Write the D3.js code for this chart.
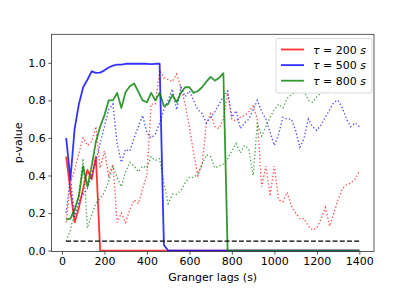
<!DOCTYPE html>
<html><head><meta charset="utf-8">
<script src="https://cdn.jsdelivr.net/npm/d3@7"></script>
<style>html,body{margin:0;padding:0;background:#fff;}svg{display:block;font-family:"DejaVu Sans",sans-serif;}</style>
</head><body><div id="chart"></div>
<script>
const lags = d3.range(20, 1401, 20);
const tauLabels = ["200", "500", "800"];
const colors = ["#ff0000", "#0000ff", "#008000"];
const xTicks = [0, 200, 400, 600, 800, 1000, 1200, 1400];
const yTicks = [0.0, 0.2, 0.4, 0.6, 0.8, 1.0];
const threshold = 0.05;

const red200 = [0.50,0.32,0.15,0.23,0.33,0.43,0.38,0.50,0,0,0,0,0,0,0,0,0,0,0,0,0,0,0,0,0,0,0,0,0,0,0,0,0,0,0,0,0,0,0,0,0,0,0,0,0,0,0,0,0,0,0,0,0,0,0,0,0,0,0,0,0,0,0,0,0,0,0,0,0,0];
const red200Dot = [0.15,0.36,0.43,0.52,0.60,0.56,0.58,0.66,0.44,0.53,0.40,0.46,0.15,0.20,0.15,0.22,0.27,0.25,0.33,0.40,0.78,0.78,0.96,0.92,0.91,0.90,0.94,0.87,0.78,0.66,0.52,0.40,0.46,0.68,0.73,0.66,0.65,0.70,0.84,0.70,0.69,0.71,0.72,0.74,0.77,0.70,0.34,0.45,0.29,0.45,0.27,0.26,0.31,0.24,0.20,0.17,0.17,0.13,0.11,0.12,0.17,0.23,0.13,0.20,0.27,0.33,0.35,0.36,0.38,0.42];
const blue500 = [0.60,0.38,0.65,0.78,0.87,0.91,0.955,0.947,0.948,0.96,0.975,0.985,0.99,0.99,0.995,0.995,0.995,0.995,0.995,0.995,0.993,0.995,0.995,0.03,0,0,0,0,0,0,0,0,0,0,0,0,0,0,0,0,0,0,0,0,0,0,0,0,0,0,0,0,0,0,0,0,0,0,0,0,0,0,0,0,0,0,0,0,0,0];
const blue500Dot = [0.20,0.39,0.18,0.26,0.30,0.33,0.40,0.48,0.57,0.66,0.75,0.78,0.57,0.47,0.54,0.53,0.60,0.66,0.72,0.63,0.60,0.62,0.68,0.75,0.80,0.86,0.75,0.87,0.82,0.85,0.80,0.75,0.73,0.68,0.71,0.74,0.78,0.82,0.85,0.71,0.745,0.65,0.68,0.70,0.75,0.80,0.74,0.70,0.63,0.56,0.62,0.71,0.70,0.70,0.64,0.55,0.60,0.70,0.66,0.64,0.67,0.71,0.75,0.79,0.80,0.76,0.70,0.66,0.68,0.66];
const green800 = [0.165,0.17,0.22,0.29,0.45,0.34,0.45,0.58,0.66,0.72,0.80,0.80,0.84,0.76,0.845,0.875,0.89,0.845,0.80,0.79,0.84,0.80,0.84,0.77,0.78,0.83,0.79,0.84,0.87,0.87,0.84,0.85,0.87,0.90,0.925,0.905,0.92,0.945,0,0,0,0,0,0,0,0,0,0,0,0,0,0,0,0,0,0,0,0,0,0,0,0,0,0,0,0,0,0,0,0];
const green800Dot = [0.05,0.11,0.21,0.30,0.49,0.12,0.19,0.25,0.28,0.31,0.37,0.45,0.39,0.34,0.42,0.47,0.45,0.42,0.45,0.44,0.50,0.48,0.49,0.36,0.25,0.30,0.30,0.32,0.36,0.39,0.39,0.41,0.46,0.51,0.50,0.44,0.45,0.46,0.49,0.53,0.57,0.52,0.56,0.54,0.40,0.68,0.61,0.66,0.71,0.75,0.78,0.76,0.81,0.83,0.85,0.88,0.85,0.80,0.79,0.82,0.84,0.85,0.86,0.88,0.89,0.91,0.93,0.93,0.94,0.95];

const solids = [red200, blue500, green800];
const dotted = [red200Dot, blue500Dot, green800Dot];

const W = 416, H = 289;
const L = 51.5, R = 374, T = 34.3, B = 251.5;
const svg = d3.select("#chart").append("svg").attr("width", W).attr("height", H);
const x = d3.scaleLinear().domain([-49, 1469]).range([L, R]);
const y = d3.scaleLinear().domain([-0.005, 1.152]).range([B, T]);

const clip = svg.append("clipPath").attr("id","clip").append("rect")
  .attr("x", L).attr("y", T).attr("width", R-L).attr("height", B-T);
const plot = svg.append("g").attr("clip-path","url(#clip)");
const line = d3.line().x((d,i)=>x(lags[i])).y(d=>y(d));

for (let k = 0; k < 3; k++) {
  plot.append("path").datum(solids[k]).attr("d", line)
    .attr("fill","none").attr("stroke", colors[k]).attr("stroke-opacity",0.8)
    .attr("stroke-width",1.8).attr("stroke-linejoin","round");
  plot.append("path").datum(dotted[k]).attr("d", line)
    .attr("fill","none").attr("stroke", colors[k]).attr("stroke-opacity",0.7)
    .attr("stroke-width",1.35).attr("stroke-dasharray","1.35,2.2");
}
plot.append("line").attr("x1", x(20)).attr("x2", x(1400))
  .attr("y1", y(threshold)).attr("y2", y(threshold))
  .attr("stroke","#000").attr("stroke-width",1.35).attr("stroke-dasharray","5,2.2");

// frame
svg.append("rect").attr("x",L).attr("y",T).attr("width",R-L).attr("height",B-T)
  .attr("fill","none").attr("stroke","#333").attr("stroke-width",0.8);

const xAxis = svg.append("g").attr("transform",`translate(0,${B})`)
  .call(d3.axisBottom(x).tickValues(xTicks).tickSize(3.2).tickPadding(2.5).tickFormat(d3.format("d")));
const yAxis = svg.append("g").attr("transform",`translate(${L},0)`)
  .call(d3.axisLeft(y).tickValues(yTicks).tickSize(3.2).tickPadding(2.5).tickFormat(d3.format(".1f")));
[xAxis, yAxis].forEach(a => {
  a.select(".domain").remove();
  a.selectAll("line").attr("stroke","#333").attr("stroke-width",0.8);
  a.selectAll("text").attr("font-family","DejaVu Sans").attr("font-size",11).attr("fill","#000");
});

svg.append("text").attr("x", (L+R)/2).attr("y", 281).attr("text-anchor","middle")
  .attr("font-size",11).attr("font-family","DejaVu Sans").text("Granger lags (s)");
svg.append("text").attr("transform",`translate(22,${(T+B)/2}) rotate(-90)`).attr("text-anchor","middle")
  .attr("font-size",11).attr("font-family","DejaVu Sans").text("p-value");

// legend
const lg = svg.append("g");
lg.append("rect").attr("x",276).attr("y",38.5).attr("width",96).attr("height",54.5).attr("rx",2)
  .attr("fill","#fff").attr("fill-opacity",0.8).attr("stroke","#d0d0d0").attr("stroke-width",0.8);
tauLabels.forEach((t,i) => {
  const cy = 49.5 + i*15.6;
  lg.append("line").attr("x1",281).attr("x2",304).attr("y1",cy).attr("y2",cy)
    .attr("stroke",colors[i]).attr("stroke-opacity",0.8).attr("stroke-width",1.8);
  const tx = lg.append("text").attr("x",313).attr("y",cy+4).attr("font-size",11).attr("font-family","DejaVu Sans");
  tx.append("tspan").attr("font-style","italic").text("τ");
  tx.append("tspan").text(" = " + t + " ");
  tx.append("tspan").attr("font-style","italic").text("s");
});
</script></body></html>
